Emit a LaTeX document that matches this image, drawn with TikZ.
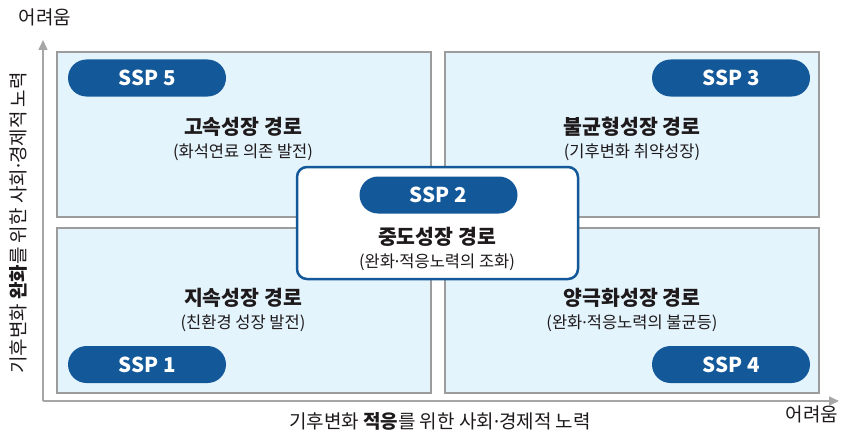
\documentclass[tikz,border=0pt]{standalone}
\usepackage{fontspec}
\setmainfont{Noto Sans CJK KR}
\newfontfamily\latinfont{Noto Sans}
\newcommand{\mdot}{{\latinfont ·}}
\usetikzlibrary{arrows.meta}
\definecolor{quadfill}{HTML}{E4F4FD}
\definecolor{quadline}{HTML}{9C9C9C}
\definecolor{sspblu}{HTML}{135899}
\definecolor{axisgray}{HTML}{A6A6A6}
\definecolor{testo}{HTML}{1E1A1B}
\tikzset{
  quad/.style={draw=quadline, fill=quadfill, line width=1.2pt, minimum width=374pt, minimum height=165pt, inner sep=0pt},
  pill/.style={fill=sspblu, rounded corners=18.5pt, minimum width=158pt, minimum height=37pt, inner sep=0pt, text=white, font=\fontsize{20.5}{24}\selectfont\bfseries},
  titolo/.style={text=testo, font=\fontsize{20.5}{24}\selectfont\bfseries},
  sotto/.style={text=testo, font=\fontsize{16.5}{19}\selectfont},
  asse/.style={draw=axisgray, line width=1.5pt, -{Triangle[length=10pt,width=9pt]}},
  etich/.style={text=testo, font=\fontsize{19}{22}\selectfont},
}
\begin{document}
\begin{tikzpicture}[x=1pt,y=-1pt]
    \useasboundingbox (0,0) rectangle (846,436);

    % Assi
    \coordinate (O) at (43,401);
    \coordinate (ytop) at (43,40);
    \coordinate (xend) at (839,401);
    \draw[asse] (O) -- (ytop);
    \draw[asse] (O) -- (xend);
    \node[etich] (ydiff) at (45,17) {어려움};
    \node[etich] (xdiff) at (812,414) {어려움};
    \node[etich] (xlab) at (440,421) {기후변화 \textbf{적응}를 위한 사회\mdot 경제적 노력};
    \node[etich, rotate=90] (ylab) at (18,223) {기후변화 \textbf{완화}를 위한 사회\mdot 경제적 노력};

    % Quadranti
    \node[quad] (q5) at (244,134.5) {};
    \node[quad] (q3) at (632,134.5) {};
    \node[quad] (q1) at (244,310.5) {};
    \node[quad] (q4) at (632,310.5) {};

    % Etichette SSP
    \node[pill] (ssp5) at (147,78) {SSP 5};
    \node[pill] (ssp3) at (731,78) {SSP 3};
    \node[pill] (ssp1) at (147,364.5) {SSP 1};
    \node[pill] (ssp4) at (731,364.5) {SSP 4};

    % Percorsi
    \node[titolo] (t5) at (243,127) {고속성장 경로};
    \node[sotto] (s5) at (243,152) {(화석연료 의존 발전)};
    \node[titolo] (t3) at (632,127) {불균형성장 경로};
    \node[sotto] (s3) at (632,152) {(기후변화 취약성장)};
    \node[titolo] (t1) at (243,298) {지속성장 경로};
    \node[sotto] (s1) at (243,323) {(친환경 성장 발전)};
    \node[titolo] (t4) at (632,298) {양극화성장 경로};
    \node[sotto] (s4) at (632,323) {(완화\mdot 적응노력의 불균등)};

    % Riquadro centrale
    \node[draw=sspblu, line width=2.5pt, fill=white, rounded corners=10pt, minimum width=281pt, minimum height=112pt] (q2) at (437.5,223) {};
    \node[pill] (ssp2) at (438.5,195) {SSP 2};
    \node[titolo] (t2) at (437,237) {중도성장 경로};
    \node[sotto] (s2) at (437,262) {(완화\mdot 적응노력의 조화)};
\end{tikzpicture}
\end{document}
